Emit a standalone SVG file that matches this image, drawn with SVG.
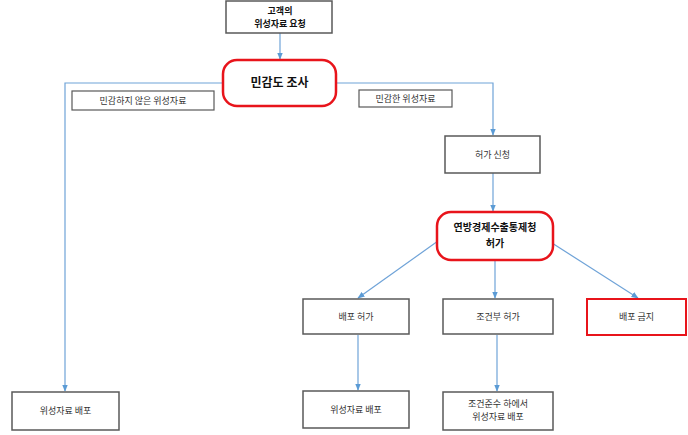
<svg xmlns="http://www.w3.org/2000/svg" width="688" height="435" viewBox="0 0 688 435">
<defs>
<style>
.box{fill:#fff;stroke:#595959;stroke-width:1.5}
.red{fill:#fff;stroke:#e8141b;stroke-width:2.5}
.lbl{fill:#fff;stroke:#595959;stroke-width:1.2}
.t{font-family:"Noto Sans CJK KR","Noto Sans",sans-serif;font-size:9px;fill:#333;text-anchor:middle}
.b{font-weight:bold;fill:#111}
.con{fill:none;stroke:#6fa3d8;stroke-width:1.2}
</style>
<marker id="ah" viewBox="0 0 10 10" refX="9" refY="5" markerWidth="6" markerHeight="6" orient="auto">
<path d="M0,1 L10,5 L0,9 z" fill="#5b9bd5"/>
</marker>
</defs>
<rect width="688" height="435" fill="#fff"/>
<g id="connectors">
<path class="con" d="M280,33 V59" marker-end="url(#ah)"/>
<path class="con" d="M223,83 H65 V391" marker-end="url(#ah)"/>
<path class="con" d="M336,83 H493 V135" marker-end="url(#ah)"/>
<path class="con" d="M493,173 V211" marker-end="url(#ah)"/>
<path class="con" d="M438,241 L358,298" marker-end="url(#ah)"/>
<path class="con" d="M495,260 V298" marker-end="url(#ah)"/>
<path class="con" d="M552,243 L638,298" marker-end="url(#ah)"/>
<path class="con" d="M358,335 V390" marker-end="url(#ah)"/>
<path class="con" d="M497,335 V391" marker-end="url(#ah)"/>
</g>
<g id="request">
<rect class="box" x="226" y="1" width="106" height="32"/>
<text class="t b" x="280" y="14">고객의</text>
<text class="t b" x="280" y="27">위성자료 요청</text>
</g>
<g id="survey">
<rect class="red" x="223" y="60" width="113" height="46" rx="14"/>
<text class="t b" x="279.5" y="87" style="font-size:12px">민감도 조사</text>
</g>
<g id="label-nonsensitive">
<rect class="lbl" x="72" y="91" width="142" height="19"/>
<text class="t" x="143" y="104">민감하지 않은 위성자료</text>
</g>
<g id="label-sensitive">
<rect class="lbl" x="359" y="90" width="93" height="17"/>
<text class="t" x="405.5" y="102">민감한 위성자료</text>
</g>
<g id="apply">
<rect class="box" x="445" y="136" width="95" height="37"/>
<text class="t" x="492.5" y="158">허가 신청</text>
</g>
<g id="bafa">
<rect class="red" x="437" y="212" width="116" height="48" rx="14"/>
<text class="t b" x="495" y="231" style="font-size:10px">연방경제수출통제청</text>
<text class="t b" x="495" y="247" style="font-size:10px">허가</text>
</g>
<g id="permit">
<rect class="box" x="303" y="299" width="106" height="35"/>
<text class="t" x="356" y="320">배포 허가</text>
</g>
<g id="conditional">
<rect class="box" x="443" y="299" width="110" height="35"/>
<text class="t" x="498" y="320">조건부 허가</text>
</g>
<g id="prohibit">
<rect class="box" x="587" y="299" width="99" height="36" style="stroke:#e8141b;stroke-width:2"/>
<text class="t" x="636.5" y="320">배포 금지</text>
</g>
<g id="dist-left">
<rect class="box" x="12" y="392" width="107" height="38"/>
<text class="t" x="65.5" y="414">위성자료 배포</text>
</g>
<g id="dist-mid">
<rect class="box" x="303" y="391" width="106" height="37"/>
<text class="t" x="356" y="413">위성자료 배포</text>
</g>
<g id="dist-cond">
<rect class="box" x="443" y="392" width="110" height="38"/>
<text class="t" x="498" y="407">조건준수 하에서</text>
<text class="t" x="498" y="420">위성자료 배포</text>
</g>
</svg>
